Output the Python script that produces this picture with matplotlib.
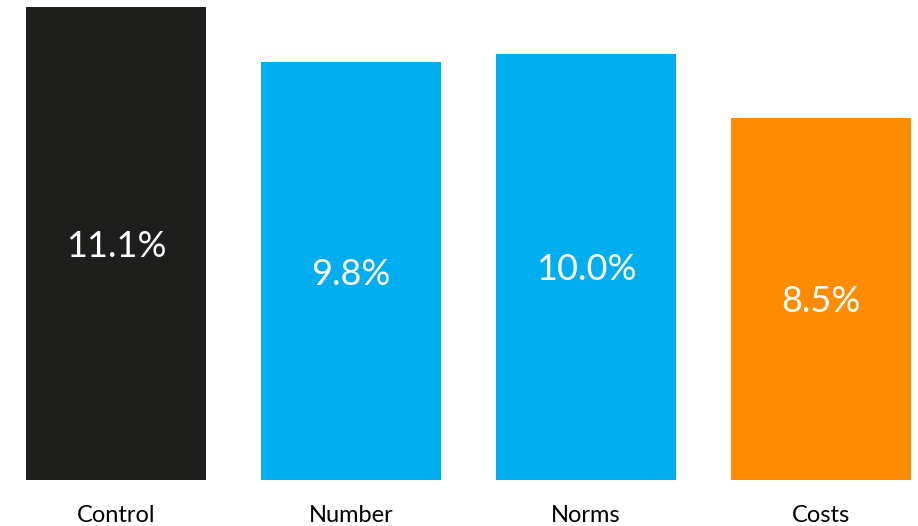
import matplotlib.pyplot as plt

categories = ["Control", "Number", "Norms", "Costs"]
values = [11.1, 9.8, 10.0, 8.5]
labels = ["11.1%", "9.8%", "10.0%", "8.5%"]
colors = ["#1E1E1C", "#00AEEF", "#00AEEF", "#FF8C00"]

plt.rcParams['font.family'] = ['Lato', 'DejaVu Sans']

fig = plt.figure(figsize=(9.18, 5.26), dpi=100)
ax = fig.add_axes([0, 46 / 526, 1, 480 / 526])

x = range(len(categories))
bars = ax.bar(x, values, width=180 / 235, color=colors)

for b, lab in zip(bars, labels):
    ax.text(b.get_x() + b.get_width() / 2, b.get_height() / 2, lab,
            ha='center', va='center_baseline', color='white', fontsize=26)

ax.set_xlim(-116 / 235, (918 - 116) / 235)
ax.set_ylim(0, 11.1 * 480 / 473)
ax.set_xticks(list(x))
ax.set_xticklabels(categories, fontsize=17)
ax.tick_params(axis='x', length=0, pad=18)
ax.set_yticks([])
for s in ax.spines.values():
    s.set_visible(False)

plt.savefig("out.png", dpi=100)
